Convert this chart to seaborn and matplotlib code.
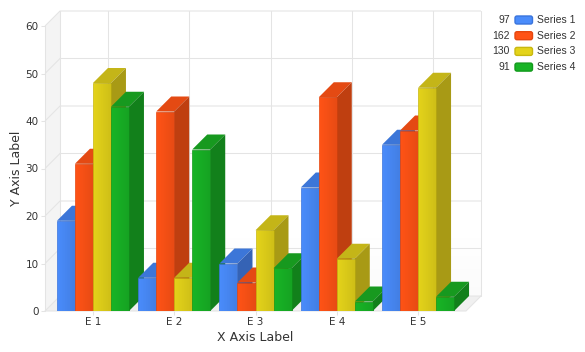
import numpy as np
import pandas as pd
import matplotlib.pyplot as plt
import seaborn as sns
from matplotlib.patches import Polygon, FancyBboxPatch
from matplotlib.transforms import Affine2D

categories = ['E 1', 'E 2', 'E 3', 'E 4', 'E 5']
series_names = ['Series 1', 'Series 2', 'Series 3', 'Series 4']
series_1 = [19, 7, 10, 26, 35]
series_2 = [31, 42, 6, 45, 38]
series_3 = [48, 7, 17, 11, 47]
series_4 = [43, 34, 9, 2, 3]
y_ticks = [0, 10, 20, 30, 40, 50, 60]

front_colors = ['#4a8cfb', '#ff5316', '#e4d31a', '#18b426']
top_colors = ['#3c76d8', '#e44a13', '#c4b518', '#17991f']
side_colors = ['#3563b5', '#bf3f10', '#a89a15', '#12801b']
edge_colors = ['#3a74dc', '#e5470f', '#c8b810', '#129a1c']

sns.set_style('white')
plt.rcParams['font.family'] = ['DejaVu Sans']

all_values = [series_1, series_2, series_3, series_4]
df = pd.DataFrame({
    'cat': categories * 4,
    'series': np.repeat(series_names, 5),
    'value': np.concatenate(all_values),
})

W, H = 585, 352
fig = plt.figure(figsize=(W / 100, H / 100), dpi=100, facecolor='white')
ax = fig.add_axes([45 / W, (H - 311) / H, 421 / W, 285 / H])
px = Affine2D().scale(1 / W, -1 / H).translate(0, 1) + fig.transFigure

sns.barplot(data=df, x='cat', y='value', hue='series', hue_order=series_names,
            palette=front_colors, saturation=1, width=0.886, legend=False, ax=ax)

x0, x1 = -0.59, 4.59
y0, y1 = 0, 60
dx = 15 / (421 / (x1 - x0))
dy = 15 / (285 / (y1 - y0))
grid_c = '#e4e4e4'
grid_w = 0.75

# 奥の壁・左の壁・床
ax.add_patch(Polygon([(x0, y0), (x0 + dx, y0 + dy), (x0 + dx, y1 + dy), (x0, y1)],
                     closed=True, fc='#f4f4f4', ec='none', clip_on=False, zorder=0.5))
ax.add_patch(Polygon([(x0, y0), (x1, y0), (x1 + dx, y0 + dy), (x0 + dx, y0 + dy)],
                     closed=True, fc='#f0f0f0', ec='none', clip_on=False, zorder=0.5))
grad = np.linspace(1, 0, 64).reshape(-1, 1)
grad = np.dstack([np.full((64, 1), 0.0)] * 3 + [np.where(grad < 0.25, (0.25 - grad) * 0.07, 0)])
ax.imshow(grad, extent=(x0 + dx, x1 + dx, y0 + dy, y1 + dy), aspect='auto', origin='upper',
          zorder=0.6, clip_on=False)

for v in y_ticks:
    ax.plot([x0, x0 + dx, x1 + dx], [v, v + dy, v + dy], color=grid_c, lw=grid_w,
            clip_on=False, zorder=1, solid_capstyle='butt')
for i in range(len(categories)):
    ax.plot([i + dx, i + dx], [y0 + dy, y1 + dy], color=grid_c, lw=grid_w, clip_on=False, zorder=1)
ax.plot([x0 + dx, x0 + dx], [y0 + dy, y1 + dy], color=grid_c, lw=grid_w, clip_on=False, zorder=1)
ax.plot([x1 + dx, x1 + dx], [y0 + dy, y1 + dy], color=grid_c, lw=grid_w, clip_on=False, zorder=1)
ax.plot([x0, x0], [y0, y1], color=grid_c, lw=grid_w, clip_on=False, zorder=1)
ax.plot([x0, x1, x1 + dx], [y0, y0, y0 + dy], color=grid_c, lw=grid_w, clip_on=False, zorder=1)

# 棒の上面・側面を追加
for i, cont in enumerate(ax.containers):
    for j, bar in enumerate(cont):
        x, w, h = bar.get_x(), bar.get_width(), bar.get_height()
        z = 3 + j + i * 0.1
        ax.add_patch(Polygon([(x, h), (x + w, h), (x + w + dx, h + dy), (x + dx, h + dy)],
                             closed=True, fc=top_colors[i], ec='none', zorder=z, clip_on=False))
        ax.add_patch(Polygon([(x + w, 0), (x + w + dx, dy), (x + w + dx, h + dy), (x + w, h)],
                             closed=True, fc=side_colors[i], ec='none', zorder=z, clip_on=False))
        bar.set_edgecolor(edge_colors[i])
        bar.set_linewidth(0.5)
        bar.set_zorder(z + 0.01)
        shade = np.zeros((1, 32, 4))
        shade[0, :, 3] = np.linspace(0, 0.1, 32)
        ax.imshow(shade, extent=(x, x + w, 0, h), aspect='auto', interpolation='bilinear',
                  zorder=z + 0.02)

ax.set_xlim(x0, x1)
ax.set_ylim(y0, y1)
ax.set_yticks(y_ticks)
ax.set_xlabel('X Axis Label', fontsize=9, color='#333333', labelpad=3)
ax.set_ylabel('Y Axis Label', fontsize=9, color='#333333', labelpad=2)
ax.tick_params(axis='both', length=3, width=0.75, color=grid_c, labelsize=7.5,
               labelcolor='#333333', pad=1.5, left=True, bottom=True)
sns.despine(ax=ax, left=True, bottom=True, top=True, right=True)

# 凡例
for k, name in enumerate(series_names):
    yc = 20 + k * 15.7
    fig.add_artist(FancyBboxPatch((515, yc - 4), 17.5, 8, boxstyle='round,pad=0,rounding_size=2',
                                  fc=front_colors[k], ec=edge_colors[k], lw=1, transform=px))
    fig.text(510, yc, str(sum(all_values[k])), transform=px, ha='right', va='center',
             fontsize=7.5, color='#333333', family='Liberation Sans')
    fig.text(537, yc, name, transform=px, ha='left', va='center',
             fontsize=7.5, color='#333333', family='Liberation Sans')

plt.savefig('out.png', dpi=100)
plt.close()
